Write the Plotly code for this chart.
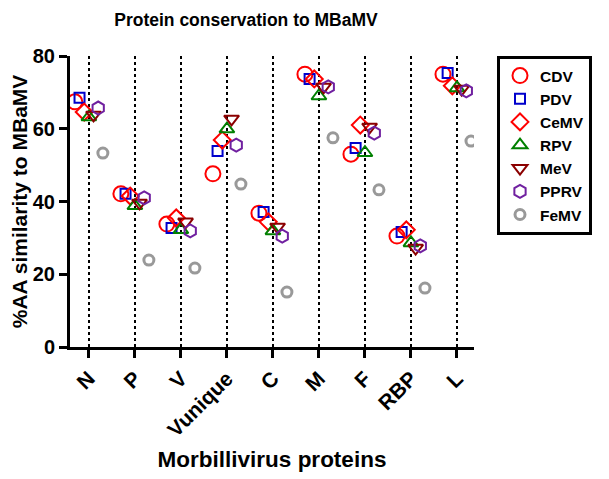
import plotly.graph_objects as go

proteins = ["N", "P", "V", "Vunique", "C", "M", "F", "RBP", "L"]

CDV  = [67.4, 42.1, 33.8, 47.6, 36.8, 75.0, 53.0, 30.5, 75.0]
PDV  = [68.5, 42.1, 32.7, 53.9, 37.1, 73.7, 54.7, 31.6, 75.3]
CeMV = [64.6, 41.5, 35.5, 56.9, 34.4, 73.7, 61.0, 32.2, 71.8]
RPV  = [63.2, 38.8, 32.2, 59.9, 31.9, 69.0, 53.4, 28.6, 71.2]
MeV  = [63.8, 39.6, 34.4, 62.7, 33.0, 71.5, 60.5, 27.2, 70.9]
PPRV = [65.7, 41.0, 31.9, 55.5, 30.5, 71.5, 58.8, 27.8, 70.4]
FeMV = [53.3, 23.9, 21.7, 44.8, 15.1, 57.5, 43.2, 16.2, 56.6]

series = [
    ("CDV", CDV, "circle-open", "#FF0000", 15, 2),
    ("PDV", PDV, "square-open", "#0000CC", 10, 2),
    ("CeMV", CeMV, "diamond-open", "#FF0000", 13, 2),
    ("RPV", RPV, "triangle-up-open", "#008000", 13, 2),
    ("MeV", MeV, "triangle-down-open", "#8B0000", 13, 2),
    ("PPRV", PPRV, "hexagon-open", "#7020A0", 13, 2),
    ("FeMV", FeMV, "circle-open", "#999999", 10, 3),
]

font_family = "Arial, Liberation Sans, sans-serif"

# page has an 8px body margin; figure coordinates below are page coords minus 8
W, H = 601, 471
L, R, T, B = 62, 135, 48, 132
plot_w = W - L - R

fig = go.Figure()
for name, vals, sym, col, size, lw in series:
    fig.add_trace(go.Scatter(
        x=proteins, y=vals, mode="markers", name=f"<b>{name}</b>",
        offsetgroup=name,
        marker=dict(symbol=sym, size=size, color=col,
                    line=dict(color=col, width=lw)),
    ))

fig.update_layout(
    width=W, height=H,
    scattermode="group", scattergap=0.29,
    plot_bgcolor="white", paper_bgcolor="white",
    margin=dict(l=L, r=R, t=T, b=B, autoexpand=False),
    font=dict(family=font_family, color="black", size=16),
    title=dict(text="<b>Protein conservation to MBaMV</b>",
               x=(246-8)/W, xanchor="center", y=1-12/H, yanchor="middle",
               pad=dict(t=0, b=0),
               font=dict(size=17.5, family=font_family)),
    legend=dict(x=(497-8-L)/plot_w, y=1.0, xanchor="left", yanchor="top",
                bordercolor="black", borderwidth=3, bgcolor="white",
                font=dict(size=15.5, family=font_family)),
    showlegend=True,
)

fig.update_xaxes(
    type="category", range=[-0.41, 8.37], automargin=False,
    showline=True, linecolor="black", linewidth=3,
    ticks="outside", tickcolor="black", tickwidth=3, ticklen=8,
    tickangle=-45,
    tickfont=dict(size=21, family=font_family),
    tickvals=proteins, ticktext=[f"<b>{p}</b>" for p in proteins],
    showgrid=True, gridcolor="black", gridwidth=2, griddash="dot",
    title=dict(text="<b>Morbillivirus proteins</b>", font=dict(size=22.5), standoff=12),
    zeroline=False,
)
fig.update_yaxes(
    range=[0, 80], automargin=False,
    tickvals=[0, 20, 40, 60, 80],
    ticktext=["<b>0</b>", "<b>20</b>", "<b>40</b>", "<b>60</b>", "<b>80</b>"],
    showline=True, linecolor="black", linewidth=3,
    ticks="outside", tickcolor="black", tickwidth=3, ticklen=8,
    tickfont=dict(size=20, family=font_family),
    showgrid=False, zeroline=False,
    title=dict(text="<b>%AA similarity to MBaMV</b>", font=dict(size=21), standoff=8),
)

fig.write_html("out.html")
